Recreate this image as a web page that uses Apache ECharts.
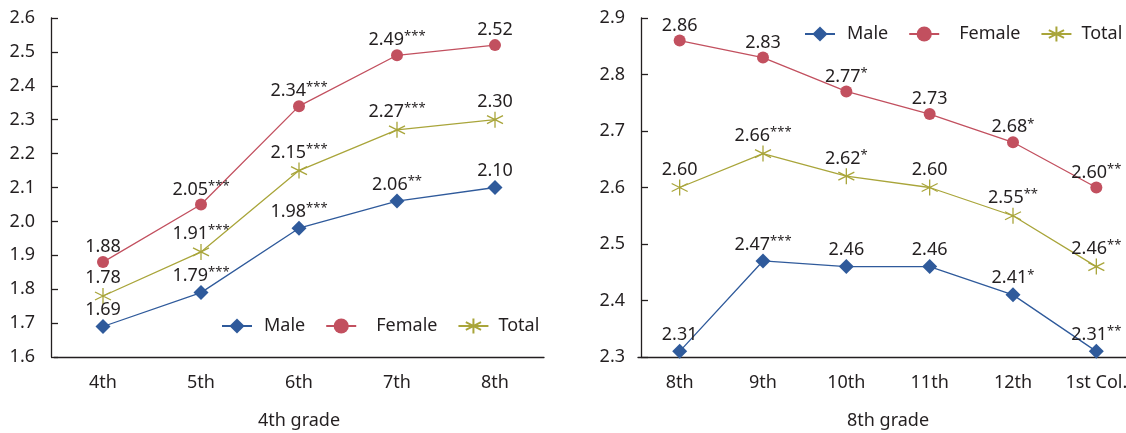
<!DOCTYPE html>
<html>
<head>
<meta charset="utf-8">
<script src="https://cdn.jsdelivr.net/npm/echarts@6/dist/echarts.min.js"></script>
<style>
  html, body { margin: 0; padding: 0; background: #fff; }
  #chart { width: 1126px; height: 433px; }
</style>
</head>
<body>
<div id="chart"></div>
<script>
// left panel: 4th grade cohort
const gradesA = ['4th', '5th', '6th', '7th', '8th']
const maleA = [1.69, 1.79, 1.98, 2.06, 2.10]
const femaleA = [1.88, 2.05, 2.34, 2.49, 2.52]
const totalA = [1.78, 1.91, 2.15, 2.27, 2.30]
const maleSigA = ['', '***', '***', '**', '']
const femaleSigA = ['', '***', '***', '***', '']
const totalSigA = ['', '***', '***', '***', '']

// right panel: 8th grade cohort
const gradesB = ['8th', '9th', '10th', '11th', '12th', '1st Col.']
const maleB = [2.31, 2.47, 2.46, 2.46, 2.41, 2.31]
const femaleB = [2.86, 2.83, 2.77, 2.73, 2.68, 2.60]
const totalB = [2.60, 2.66, 2.62, 2.60, 2.55, 2.46]
const maleSigB = ['', '***', '', '', '*', '**']
const femaleSigB = ['', '', '*', '', '*', '**']
const totalSigB = ['', '***', '*', '', '**', '**']

const yTicksA = { min: 1.6, max: 2.6 }
const yTicksB = { min: 2.3, max: 2.9 }

const FONT = '"Noto Sans", sans-serif'
const INK = '#231f20'
const C_MALE = '#2f5a9b'
const C_FEMALE = '#c2505f'
const C_TOTAL = '#a9a53a'
const STAR = 'path://M10,0 L10,20 M1.34,5 L18.66,15 M1.34,15 L18.66,5'

const chart = echarts.init(document.getElementById('chart'))

function label(sig) {
  return {
    show: true,
    position: 'top',
    distance: -1,
    formatter: p => `{v|${p.value.toFixed(2)}}` + (sig[p.dataIndex] ? `{s|${sig[p.dataIndex]}}` : ''),
    rich: {
      v: { fontFamily: FONT, fontSize: 18, color: INK, lineHeight: 20 },
      s: { fontFamily: FONT, fontSize: 13, color: INK, lineHeight: 13, verticalAlign: 'top' }
    }
  }
}

function series(name, data, sig, idx) {
  const base = {
    name,
    type: 'line',
    xAxisIndex: idx,
    yAxisIndex: idx,
    data,
    animation: false,
    label: label(sig),
    z: name === 'Female' ? 3 : 2
  }
  if (name === 'Male') {
    return Object.assign(base, {
      symbol: 'diamond', symbolSize: 15,
      itemStyle: { color: C_MALE },
      lineStyle: { color: C_MALE, width: 1.3 }
    })
  }
  if (name === 'Female') {
    return Object.assign(base, {
      symbol: 'circle', symbolSize: 12,
      itemStyle: { color: C_FEMALE },
      lineStyle: { color: C_FEMALE, width: 1.3 }
    })
  }
  return Object.assign(base, {
    symbol: STAR, symbolSize: 16,
    itemStyle: { color: C_TOTAL, borderColor: C_TOTAL, borderWidth: 1.3 },
    lineStyle: { color: C_TOTAL, width: 1.3 }
  })
}

function xAxis(cats, idx, name) {
  return {
    type: 'category',
    gridIndex: idx,
    data: cats,
    boundaryGap: true,
    name,
    nameLocation: 'middle',
    nameGap: 55,
    nameTextStyle: { fontFamily: FONT, fontSize: 18, color: INK },
    axisLine: { lineStyle: { color: INK, width: 1.3 } },
    axisTick: { inside: true, length: 8, alignWithLabel: true, lineStyle: { color: INK, width: 1.3 } },
    axisLabel: { fontFamily: FONT, fontSize: 18, color: INK, margin: 17 },
    splitLine: { show: false }
  }
}

function yAxis(range, idx, offset) {
  return {
    type: 'value',
    gridIndex: idx,
    min: range.min,
    max: range.max,
    interval: 0.1,
    offset,
    axisLine: { show: true, lineStyle: { color: INK, width: 1.3 } },
    axisTick: { show: true, inside: true, length: 7, lineStyle: { color: INK, width: 1.3 } },
    axisLabel: { fontFamily: FONT, fontSize: 18, color: INK, margin: 16, formatter: v => v.toFixed(1) },
    splitLine: { show: false }
  }
}

function legend(left, top) {
  return {
    left, top,
    width: 400,
    itemWidth: 30,
    itemHeight: 19,
    itemGap: 20,
    textStyle: { fontFamily: FONT, fontSize: 18, color: INK },
    data: [
      { name: 'Male', textStyle: { padding: [0, 0, 0, 7] } },
      { name: 'Female', textStyle: { padding: [0, 0, 0, 15] } },
      { name: 'Total', textStyle: { padding: [0, 0, 0, 5] } }
    ]
  }
}

chart.setOption({
  backgroundColor: '#fff',
  animation: false,
  grid: [
    { left: 54, width: 490, top: 18, height: 339, outerBoundsMode: 'none' },
    { left: 638, width: 500, top: 18, height: 339, outerBoundsMode: 'none' }
  ],
  legend: [legend(216, 312), legend(799, 20)],
  xAxis: [xAxis(gradesA, 0, '4th grade'), xAxis(gradesB, 1, '8th grade')],
  yAxis: [yAxis(yTicksA, 0, 3), yAxis(yTicksB, 1, -3)],
  series: [
    series('Male', maleA, maleSigA, 0),
    series('Female', femaleA, femaleSigA, 0),
    series('Total', totalA, totalSigA, 0),
    series('Male', maleB, maleSigB, 1),
    series('Female', femaleB, femaleSigB, 1),
    series('Total', totalB, totalSigB, 1)
  ]
})
</script>
</body>
</html>
